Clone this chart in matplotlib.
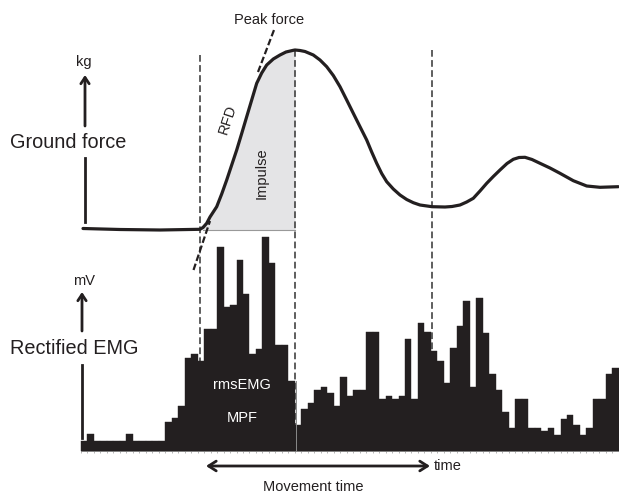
import matplotlib.pyplot as plt
import numpy as np

plt.rcParams['font.family'] = ['Liberation Sans', 'DejaVu Sans']

# ground force trace (figure pixel units, y grows downward)
force_x = [83, 120, 160, 200, 203, 206.7, 210, 216.7, 221.7, 226.7, 231.7, 236.7,
           241.7, 246.7, 251.7, 256.7, 261.7, 266.7, 273.3, 280, 286, 293.3, 295,
           300, 305, 313.3, 320, 326.7, 333.3, 340, 346.7, 353.3, 360, 366.7,
           371.7, 376.7, 381.7, 386.7, 393.3, 400, 406.7, 413.3, 420, 432, 445,
           452, 460, 466.7, 473.3, 480, 486.7, 493.3, 500, 507, 513.3, 519, 525,
           532, 540, 550, 560, 573.3, 586.7, 600, 618.3]
force_y = [228.5, 229.5, 230, 229.3, 227.5, 223.3, 217, 206.7, 194, 180, 165, 150,
           133.5, 116.7, 100, 83.3, 73, 65, 59, 55, 52, 50.3, 50,
           50.5, 51.5, 55, 60, 66.7, 75.5, 86.7, 100, 113.3, 126.7, 140,
           152, 163.3, 173.5, 181.7, 189, 195, 199.5, 202.7, 205, 206.7, 207,
           206.5, 205, 202, 198.3, 191, 183.3, 176.5, 170, 163.5, 159.3, 157.5, 157.3,
           159.5, 163.3, 168, 173.3, 180.7, 186, 187.3, 186.7]
force_base = 229.5

# rectified EMG bar heights
emg_x0 = 81
emg_w = 6.48
emg_base = 450.5
emg_h = [9.5, 16.5, 9.5, 9.5, 9.5, 9.5, 9.5, 16.5, 9.5, 9.5, 9.5, 9.5, 9.5,
         29, 32.5, 44.5, 92.5, 96.5, 90, 121.5, 121.5, 204, 144, 146, 191, 156.5,
         97, 102, 214, 188, 105.5, 105.5, 69.5, 25.5, 41.5, 47.5, 60.5, 63.5, 57.5,
         44.5, 73.5, 54.5, 60.5, 60.5, 118.5, 118.5, 51.5, 54.5, 51.5, 54.5, 111.5,
         51.5, 127.5, 118.5, 99.5, 89.5, 67.5, 102.5, 124.5, 150, 64, 153, 118,
         76.5, 61, 38.5, 23, 51.5, 51.5, 23, 23, 19.5, 23, 16, 32, 35.5, 25.5,
         16, 23, 51.5, 51.5, 76.5, 83]

# event markers
event_x = [200, 295, 432]
event_top = [55, 50, 50]
rfd_lo_x, rfd_lo_y = [193.5, 210], [270, 221]
rfd_hi_x, rfd_hi_y = [258, 274], [72, 30]

ink = '#231f20'
dash = '#333333'


def main():
    fig = plt.figure(figsize=(6.19, 4.93), dpi=100)
    ax = fig.add_axes([0, 0, 1, 1])
    ax.set_xlim(0, 619)
    ax.set_ylim(493, 0)
    ax.axis('off')

    fx = np.array(force_x)
    fy = np.array(force_y)

    # impulse area
    m = (fx >= 203) & (fx <= 295)
    ax.fill_between(fx[m], fy[m], force_base, color='#e4e4e6', lw=0, zorder=1)
    ax.plot([203, 295], [force_base, force_base], color='#999999', lw=0.8, zorder=2)

    # dashed event lines
    for x, t in zip(event_x, event_top):
        ax.plot([x, x], [t, emg_base], color=dash, lw=1.1,
                dashes=(4.4, 2.2), zorder=2)

    # force curve
    ax.plot(fx, fy, color=ink, lw=2.3, solid_capstyle='round',
            solid_joinstyle='round', zorder=4)

    # RFD tangent
    for xs, ys in [(rfd_lo_x, rfd_lo_y), (rfd_hi_x, rfd_hi_y)]:
        ax.plot(xs, ys, color=ink, lw=1.6, dashes=(3, 1.3), zorder=3)

    # EMG bars
    n = len(emg_h)
    left = emg_x0 + emg_w * np.arange(n)
    ax.bar(left, emg_h, width=emg_w, bottom=emg_base - np.array(emg_h),
           align='edge', color=ink, edgecolor=ink, lw=0.3, zorder=3)
    ax.plot([emg_x0, 619], [emg_base + 0.8, emg_base + 0.8], color='#888888',
            lw=0.6, zorder=2)
    ax.vlines(left, emg_base, emg_base + 2.5, color='#999999', lw=0.5, zorder=2)
    ax.plot([295.5, 295.5], [emg_base - emg_h[32], emg_base], color='#8a8a8a',
            lw=0.7, zorder=4)

    # axis arrows on the left
    arr = dict(arrowstyle='->,head_length=0.45,head_width=0.3', lw=2,
               color=ink, shrinkA=0, shrinkB=0)
    ax.annotate('', xy=(85, 75), xytext=(85, 126), arrowprops=arr)
    ax.plot([85, 85], [158, 222], color=ink, lw=2)
    ax.annotate('', xy=(82, 292), xytext=(82, 331), arrowprops=arr)
    ax.plot([82, 82], [365, 438], color=ink, lw=2)

    # movement time arrow
    arr2 = dict(arrowstyle='<->,head_length=0.55,head_width=0.35', lw=2,
                color=ink, shrinkA=0, shrinkB=0)
    ax.annotate('', xy=(430, 466), xytext=(206, 466), arrowprops=arr2)

    txt = dict(color=ink, ha='center', va='center')
    ax.text(84, 62, 'kg', fontsize=10.5, **txt)
    ax.text(84, 281, 'mV', fontsize=10.5, **txt)
    ax.text(68, 143, 'Ground force', fontsize=14.3, **txt)
    ax.text(74, 349, 'Rectified EMG', fontsize=14.3, **txt)
    ax.text(269, 20, 'Peak force', fontsize=10.5, **txt)
    ax.text(228, 119, 'RFD', fontsize=10.5, rotation=72, **txt)
    ax.text(262, 173, 'Impulse', fontsize=10.5, rotation=90, **txt)
    ax.text(242, 385, 'rmsEMG', fontsize=10.5, color='white', ha='center',
            va='center', zorder=5)
    ax.text(242, 418, 'MPF', fontsize=10.5, color='white', ha='center',
            va='center', zorder=5)
    ax.text(434, 466, 'time', fontsize=10.5, color=ink, ha='left', va='center')
    ax.text(313, 487, 'Movement time', fontsize=10.5, **txt)

    fig.savefig('out.png', dpi=100)


if __name__ == '__main__':
    main()
